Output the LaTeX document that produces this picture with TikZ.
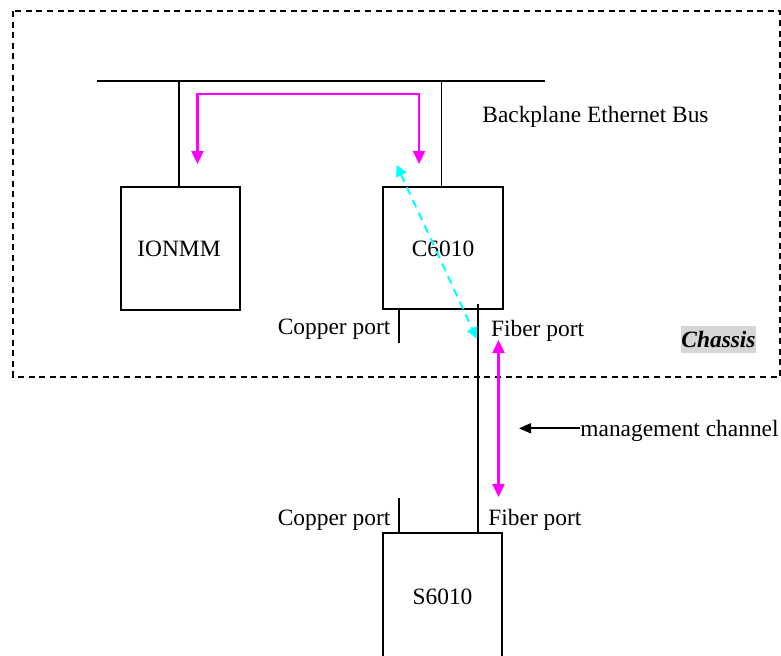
\documentclass[tikz,border=0pt]{standalone}
\usepackage{fontspec}
\setmainfont{Liberation Serif}
\usetikzlibrary{arrows.meta,calc}
\definecolor{magpure}{RGB}{255,0,255}
\definecolor{cyanpure}{RGB}{0,255,255}
\definecolor{chassisgray}{RGB}{214,214,214}
\begin{document}
\begin{tikzpicture}[x=0.5pt,y=-0.5pt,
  font=\fontsize{11.7}{14}\selectfont,
  box/.style={draw,line width=0.85pt,inner sep=0pt},
  wire/.style={line width=0.85pt},
  lbl/.style={inner sep=0pt},
  magarrow/.style={draw=magpure,line width=1.1pt,{Triangle[length=6.5pt,width=6pt]}-{Triangle[length=6.5pt,width=6pt]}},
  cyanarrow/.style={draw=cyanpure,line width=1pt,dash pattern=on 4pt off 3pt,{Triangle[length=5.5pt,width=5.5pt]}-{Triangle[length=5.5pt,width=5.5pt]}},
  blkarrow/.style={draw=black,line width=0.9pt,-{Triangle[length=6pt,width=5pt]}}]
\useasboundingbox (0,0) rectangle (781,655);
\clip (0,0) rectangle (781,655);
% chassis
\draw[line width=0.75pt,dash pattern=on 3pt off 2.3pt] (13,11) rectangle (780,377);
\node[lbl,fill=chassisgray,minimum width=37.5pt,minimum height=13.5pt,font=\fontsize{11.7}{14}\selectfont\bfseries\itshape] (chassis) at (718.5,339.5) {Chassis};
% boxes
\node[box,minimum width=59.5pt,minimum height=61.5pt] (ionmm) at (180.5,248.5) {};
\node[lbl,anchor=base] (ionmmt) at (179,256.7) {IONMM};
\node[box,minimum width=60pt,minimum height=61pt] (c6010) at (443,248) {};
\node[lbl,anchor=base] (c6010t) at (443,256.7) {C6010};
\node[box,minimum width=59.5pt,minimum height=64pt] (s6010) at (442.5,597) {};
\node[lbl,anchor=base] (s6010t) at (442.5,604) {S6010};
% bus
\coordinate (busL) at (97,80.7);
\coordinate (busR) at (545,80.7);
\draw[wire] (busL) -- (busR);
\coordinate (ionmmtop) at (179,187);
\coordinate (c6010top) at (441.5,187);
\draw[wire] (ionmmtop) -- (ionmmtop |- busL);
\draw[wire] (c6010top) -- (c6010top |- busL);
\node[lbl,anchor=base west] (bus) at (482,122.7) {Backplane Ethernet Bus};
% ports
\coordinate (cuC1) at (399.3,309);
\coordinate (cuC2) at (399.3,342.7);
\draw[wire] (cuC1) -- (cuC2);
\coordinate (fiC) at (478.3,304);
\coordinate (fiS) at (478.3,533.5);
\draw[wire] (fiC) -- (fiS);
\coordinate (cuS1) at (399,498);
\coordinate (cuS2) at (399,533.5);
\draw[wire] (cuS1) -- (cuS2);
\node[lbl,anchor=base east] (cuCt) at (390.7,334) {Copper port};
\node[lbl,anchor=base west] (fiCt) at (490.7,336.7) {Fiber port};
\node[lbl,anchor=base east] (cuSt) at (390.7,525) {Copper port};
\node[lbl,anchor=base west] (fiSt) at (488,525) {Fiber port};
% magenta arrows
\coordinate (m1) at (197.5,164);
\coordinate (m2) at (419,94);
\coordinate (m3) at (419,164);
\draw[magarrow] (m1) |- (m2) -- (m3);
\coordinate (m4) at (498.5,340);
\coordinate (m5) at (498.5,497);
\draw[magarrow] (m4) -- (m5);
% cyan arrow
\coordinate (cy1) at (396.7,165);
\coordinate (cy2) at (476.7,338.5);
\draw[cyanarrow] (cy1) -- (cy2);
% management channel
\node[lbl,anchor=base west] (mgmt) at (580,436.7) {management channel};
\coordinate (mtip) at (519,428.3);
\draw[blkarrow] (mgmt.west |- mtip) -- (mtip);
\end{tikzpicture}
\end{document}
